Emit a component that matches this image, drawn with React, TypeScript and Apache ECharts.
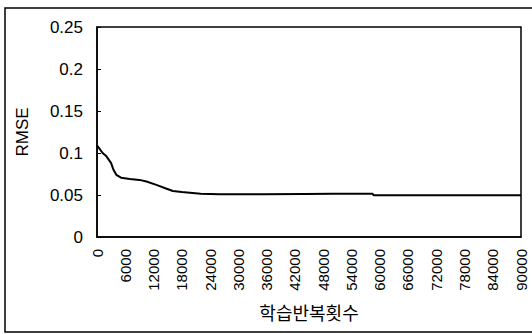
import React, { useEffect, useRef } from "react";
import * as echarts from "echarts";

const iterations = [0, 1200, 2000, 3000, 3500, 4100, 5100, 7000, 9000, 10500, 12600, 14500, 16100, 18000, 19700, 22000, 26000, 35000, 44000, 50000, 58500, 58700, 70000, 90000];
const rmse = [0.109, 0.1, 0.096, 0.088, 0.08, 0.074, 0.0706, 0.069, 0.068, 0.066, 0.062, 0.058, 0.0548, 0.0535, 0.0527, 0.0515, 0.051, 0.051, 0.0513, 0.0515, 0.0515, 0.0498, 0.0498, 0.0498];
const xAxisTitle = "학습반복횟수";
const yAxisTitle = "RMSE";
const yTicks = [0, 0.05, 0.1, 0.15, 0.2, 0.25];

const FONT = "'Liberation Sans', Arial, 'Noto Sans CJK KR', sans-serif";

export default function App() {
  const ref = useRef<HTMLDivElement>(null);
  useEffect(() => {
    if (!ref.current) return;
    const chart = echarts.init(ref.current, null, { renderer: "svg" });
    const data = iterations.map((x, i) => [x, rmse[i]]);
    chart.setOption({
      animation: false,
      backgroundColor: "#ffffff",
      textStyle: { fontFamily: FONT, color: "#000" },
      graphic: [
        {
          type: "rect",
          shape: { x: 5, y: 8, width: 540, height: 324 },
          style: { fill: "none", stroke: "#000", lineWidth: 1.5 },
          silent: true,
        },
      ],
      grid: {
        left: 97,
        top: 27,
        width: 424,
        height: 210,
        show: true,
        borderColor: "#000",
        borderWidth: 1.5,
        backgroundColor: "transparent",
      },
      xAxis: {
        type: "value",
        min: 0,
        max: 90000,
        interval: 6000,
        name: xAxisTitle,
        nameLocation: "middle",
        nameGap: 68,
        nameTextStyle: { fontSize: 18, color: "#000", fontFamily: FONT },
        axisLine: { show: true, lineStyle: { color: "#000", width: 1.5 } },
        axisTick: { show: false },
        splitLine: { show: false },
        axisLabel: {
          rotate: 90,
          fontSize: 15,
          color: "#000",
          margin: 12,
          fontFamily: FONT,
          formatter: (v: number) => String(v),
        },
      },
      yAxis: {
        type: "value",
        min: 0,
        max: 0.25,
        interval: 0.05,
        name: yAxisTitle,
        nameLocation: "middle",
        nameGap: 66,
        nameTextStyle: { fontSize: 17, color: "#000", fontFamily: FONT },
        axisLine: { show: true, lineStyle: { color: "#000", width: 1.5 } },
        axisTick: { show: true, inside: true, length: 4, lineStyle: { color: "#000" } },
        splitLine: { show: false },
        axisLabel: {
          fontSize: 17,
          color: "#000",
          margin: 14,
          fontFamily: FONT,
          formatter: (v: number) => {
            const t = yTicks.find((k) => Math.abs(k - v) < 1e-9);
            return t === undefined ? "" : String(t);
          },
        },
      },
      series: [
        {
          type: "line",
          data,
          showSymbol: false,
          symbol: "none",
          lineStyle: { color: "#000", width: 2 },
          z: 3,
        },
      ],
    });
    return () => chart.dispose();
  }, []);
  return (
    <div
      ref={ref}
      style={{ position: "fixed", left: 0, top: 0, width: 532, height: 334, background: "#fff" }}
    />
  );
}
